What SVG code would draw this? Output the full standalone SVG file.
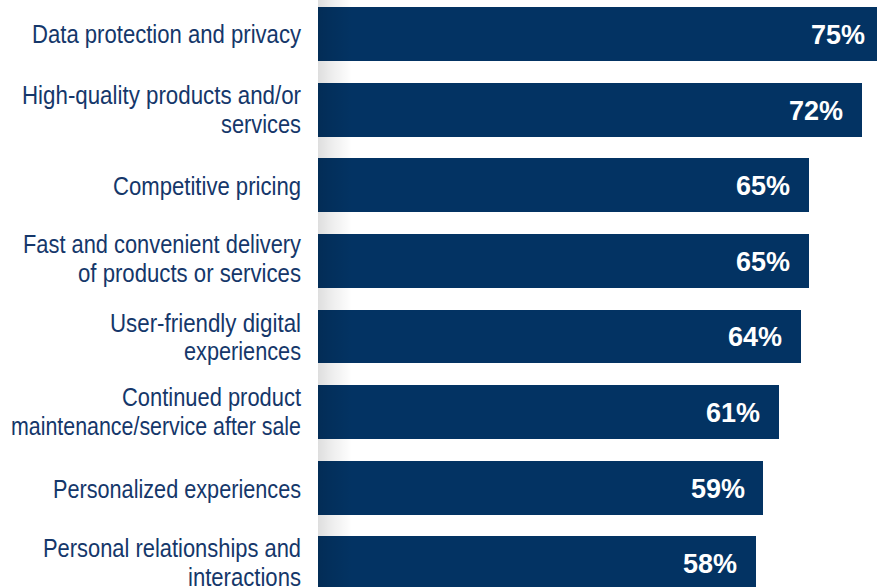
<svg xmlns="http://www.w3.org/2000/svg" width="877" height="587" viewBox="0 0 877 587">
<style>
.bar{fill:#033363}
.lbl{font-family:"Liberation Sans",Arial,sans-serif;font-size:25px;fill:#15376a;text-anchor:end}
.pct{font-family:"Liberation Sans",Arial,sans-serif;font-size:27px;font-weight:bold;fill:#ffffff;text-anchor:end}
</style>
<defs>
<linearGradient id="shade" x1="0" y1="0" x2="1" y2="0">
<stop offset="0" stop-color="#000" stop-opacity="0.13"/>
<stop offset="0.4" stop-color="#000" stop-opacity="0.07"/>
<stop offset="1" stop-color="#000" stop-opacity="0"/>
</linearGradient>
</defs>
<rect width="877" height="587" fill="#ffffff"/>
<g id="bar1"><rect class="bar" x="318" y="7" width="566" height="54"/><text class="pct" x="865" y="43.5">75%</text><text class="lbl" x="301" y="43" textLength="269" lengthAdjust="spacingAndGlyphs">Data protection and privacy</text></g>
<g id="bar2"><rect class="bar" x="318" y="83" width="544" height="54"/><text class="pct" x="843" y="119.5">72%</text><text class="lbl" x="301" y="104" textLength="279" lengthAdjust="spacingAndGlyphs">High-quality products and/or</text><text class="lbl" x="301" y="133" textLength="80" lengthAdjust="spacingAndGlyphs">services</text></g>
<g id="bar3"><rect class="bar" x="318" y="158" width="491" height="54"/><text class="pct" x="790" y="194.5">65%</text><text class="lbl" x="301" y="195" textLength="188" lengthAdjust="spacingAndGlyphs">Competitive pricing</text></g>
<g id="bar4"><rect class="bar" x="318" y="234" width="491" height="54"/><text class="pct" x="790" y="270.5">65%</text><text class="lbl" x="301" y="253" textLength="278" lengthAdjust="spacingAndGlyphs">Fast and convenient delivery</text><text class="lbl" x="301" y="282" textLength="223" lengthAdjust="spacingAndGlyphs">of products or services</text></g>
<g id="bar5"><rect class="bar" x="318" y="310" width="483" height="53"/><text class="pct" x="782" y="346">64%</text><text class="lbl" x="301" y="331.5" textLength="191" lengthAdjust="spacingAndGlyphs">User-friendly digital</text><text class="lbl" x="301" y="360" textLength="117" lengthAdjust="spacingAndGlyphs">experiences</text></g>
<g id="bar6"><rect class="bar" x="318" y="385" width="461" height="54"/><text class="pct" x="760" y="421.5">61%</text><text class="lbl" x="301" y="406" textLength="179" lengthAdjust="spacingAndGlyphs">Continued product</text><text class="lbl" x="301" y="435" textLength="290" lengthAdjust="spacingAndGlyphs">maintenance/service after sale</text></g>
<g id="bar7"><rect class="bar" x="318" y="461" width="445" height="54"/><text class="pct" x="745" y="497.5">59%</text><text class="lbl" x="301" y="498" textLength="248" lengthAdjust="spacingAndGlyphs">Personalized experiences</text></g>
<g id="bar8"><rect class="bar" x="318" y="536" width="438" height="56"/><text class="pct" x="737" y="573">58%</text><text class="lbl" x="301" y="557" textLength="258" lengthAdjust="spacingAndGlyphs">Personal relationships and</text><text class="lbl" x="301" y="586" textLength="113" lengthAdjust="spacingAndGlyphs">interactions</text></g>
<rect id="shadow" x="318" y="0" width="34" height="587" fill="url(#shade)"/>
</svg>
